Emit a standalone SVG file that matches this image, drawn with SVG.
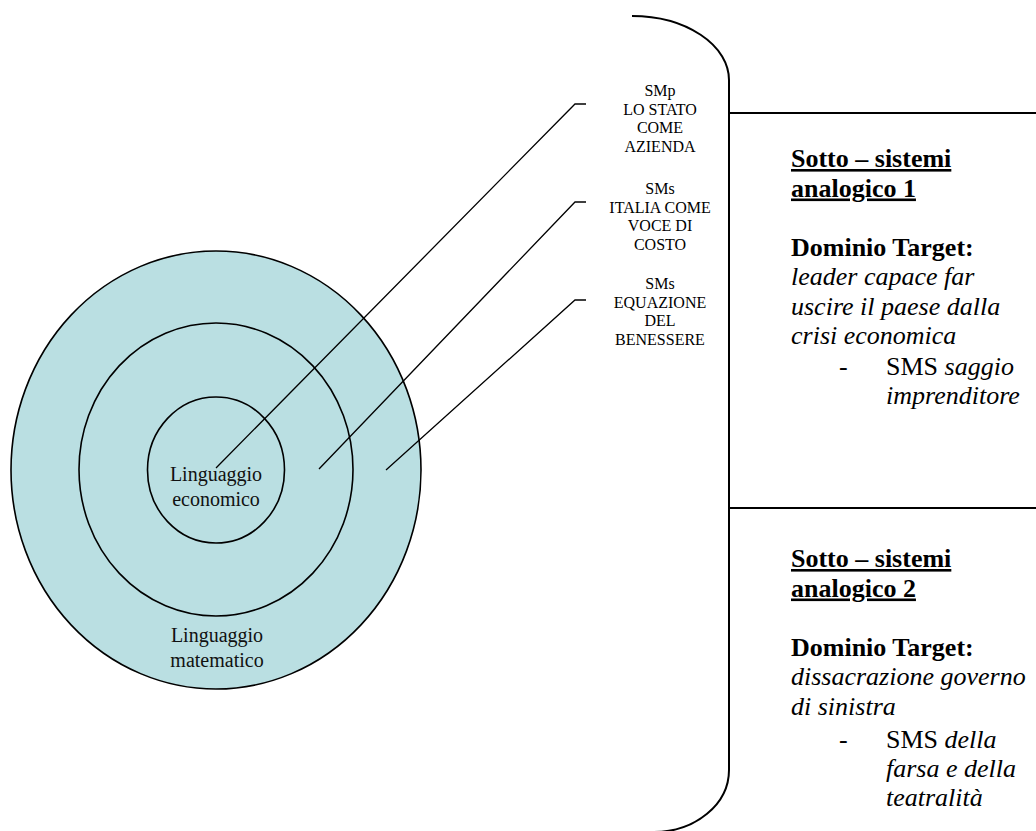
<svg xmlns="http://www.w3.org/2000/svg" width="1036" height="831" viewBox="0 0 1036 831">
<style>
.ring{fill:#badfe2;stroke:#000;stroke-width:1.6}
.ringin{fill:none;stroke:#000;stroke-width:1.6}
.lead{fill:none;stroke:#000;stroke-width:1.3}
.frame{fill:none;stroke:#000;stroke-width:2}
.lbl{font-family:"Liberation Serif",serif;font-size:16px;fill:#000;text-anchor:middle}
.circ{font-family:"Liberation Serif",serif;font-size:20px;fill:#111;text-anchor:middle}
.rt{font-family:"Liberation Serif",serif;font-size:26px;fill:#000}
.b{font-weight:bold}
.u{text-decoration:underline}
.i{font-style:italic}
</style>
<rect width="1036" height="831" fill="#fff"/>
<g id="rings">
<ellipse class="ring" cx="216" cy="470" rx="205" ry="219"/>
<ellipse class="ringin" cx="216" cy="469.5" rx="137" ry="146.5"/>
<ellipse class="ringin" cx="216" cy="470" rx="68.5" ry="73"/>
<text class="circ" x="216" y="481">Linguaggio</text>
<text class="circ" x="216" y="506">economico</text>
<text class="circ" x="217" y="642">Linguaggio</text>
<text class="circ" x="217" y="667">matematico</text>
</g>
<g id="connectors">
<polyline class="lead" points="216,468 575,104 586,104"/>
<polyline class="lead" points="319,469 575,202 586,202"/>
<polyline class="lead" points="386,470 575,300 586,300"/>
</g>
<g id="label-smp">
<text class="lbl" x="660" y="96">SMp</text>
<text class="lbl" x="660" y="114.5">LO STATO</text>
<text class="lbl" x="660" y="133">COME</text>
<text class="lbl" x="660" y="151.5">AZIENDA</text>
</g>
<g id="label-sms1">
<text class="lbl" x="660" y="194">SMs</text>
<text class="lbl" x="660" y="212.5">ITALIA COME</text>
<text class="lbl" x="660" y="231">VOCE DI</text>
<text class="lbl" x="660" y="249.5">COSTO</text>
</g>
<g id="label-sms2">
<text class="lbl" x="660" y="289">SMs</text>
<text class="lbl" x="660" y="307.5">EQUAZIONE</text>
<text class="lbl" x="660" y="326">DEL</text>
<text class="lbl" x="660" y="344.5">BENESSERE</text>
</g>
<g id="frame">
<path class="frame" d="M632 16 A97 64 0 0 1 729 80 L729 770 A75 62 0 0 1 654 832"/>
<line class="frame" x1="729" y1="113" x2="1036" y2="113"/>
<line class="frame" x1="729" y1="508" x2="1036" y2="508"/>
</g>
<g id="subsystem-1">
<text class="rt b u" x="791" y="167">Sotto – sistemi</text>
<text class="rt b u" x="791" y="196.5">analogico 1</text>
<text class="rt b" x="791" y="255.5">Dominio Target:</text>
<text class="rt i" x="791" y="285">leader capace far</text>
<text class="rt i" x="791" y="314.5">uscire il paese dalla</text>
<text class="rt i" x="791" y="344">crisi economica</text>
<text class="rt" x="839" y="375">-</text>
<text class="rt" x="886" y="375">SMS <tspan class="i">saggio</tspan></text>
<text class="rt i" x="886" y="404">imprenditore</text>
</g>
<g id="subsystem-2">
<text class="rt b u" x="791" y="567">Sotto – sistemi</text>
<text class="rt b u" x="791" y="596.5">analogico 2</text>
<text class="rt b" x="791" y="655.5">Dominio Target:</text>
<text class="rt i" x="791" y="685">dissacrazione governo</text>
<text class="rt i" x="791" y="714.5">di sinistra</text>
<text class="rt" x="839" y="748">-</text>
<text class="rt" x="886" y="748">SMS <tspan class="i">della</tspan></text>
<text class="rt i" x="886" y="777">farsa e della</text>
<text class="rt i" x="886" y="806">teatralità</text>
</g>
</svg>
